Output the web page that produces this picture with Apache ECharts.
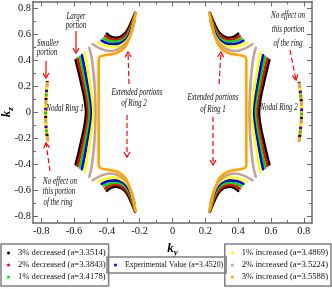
<!DOCTYPE html>
<html><head><meta charset="utf-8">
<script src="https://cdn.jsdelivr.net/npm/echarts@6/dist/echarts.min.js"></script>
<style>html,body{margin:0;padding:0;background:#fff}#c{width:332px;height:289px}</style>
</head><body><div id="c"></div>
<script>
const seriesNames = ['3% decreased (a=3.3514)','2% decreased (a=3.3843)','1% decreased (a=3.4178)','Experimental Value (a=3.4520)','1% increased (a=3.4869)','2% increased (a=3.5224)','3% increased (a=3.5588)'];
const seriesColors = ['#000000','#ff0000','#00e000','#0000ff','#ffff00','#c4a09a','#ffa500'];
const majorTicks = [-0.8,-0.6,-0.4,-0.2,0,0.2,0.4,0.6,0.8];
const minorTicks = [-0.7,-0.5,-0.3,-0.1,0.1,0.3,0.5,0.7];

// Left nodal ring (larger portion), top -> bottom
const L_ring_blk = [[-0.590,0.400],[-0.574,0.320],[-0.556,0.220],[-0.537,0.110],[-0.527,0],[-0.537,-0.110],[-0.556,-0.220],[-0.574,-0.320],[-0.590,-0.400]];
const L_ring_red = [[-0.578,0.412],[-0.562,0.330],[-0.544,0.225],[-0.525,0.112],[-0.515,0],[-0.525,-0.112],[-0.544,-0.225],[-0.562,-0.330],[-0.578,-0.412]];
const L_ring_grn = [[-0.565,0.425],[-0.549,0.340],[-0.532,0.230],[-0.514,0.115],[-0.504,0],[-0.514,-0.115],[-0.532,-0.230],[-0.549,-0.340],[-0.565,-0.425]];
const L_ring_blu = [[-0.552,0.438],[-0.537,0.350],[-0.520,0.235],[-0.503,0.118],[-0.493,0],[-0.503,-0.118],[-0.520,-0.235],[-0.537,-0.350],[-0.552,-0.438]];
const L_ring_yel = [[-0.536,0.458],[-0.522,0.365],[-0.507,0.245],[-0.491,0.120],[-0.482,0],[-0.491,-0.120],[-0.507,-0.245],[-0.522,-0.365],[-0.536,-0.458]];
const L_ring_ros = [[-0.507,0.495],[-0.493,0.420],[-0.481,0.300],[-0.472,0.150],[-0.469,0],[-0.472,-0.150],[-0.481,-0.300],[-0.493,-0.420],[-0.507,-0.495]];
// Right nodal ring
const R_ring_blk = [[0.590,0.400],[0.574,0.320],[0.556,0.220],[0.537,0.110],[0.527,0],[0.537,-0.110],[0.556,-0.220],[0.574,-0.320],[0.590,-0.400]];
const R_ring_red = [[0.578,0.412],[0.562,0.330],[0.544,0.225],[0.525,0.112],[0.515,0],[0.525,-0.112],[0.544,-0.225],[0.562,-0.330],[0.578,-0.412]];
const R_ring_grn = [[0.565,0.425],[0.549,0.340],[0.532,0.230],[0.514,0.115],[0.504,0],[0.514,-0.115],[0.532,-0.230],[0.549,-0.340],[0.565,-0.425]];
const R_ring_blu = [[0.552,0.438],[0.537,0.350],[0.520,0.235],[0.503,0.118],[0.493,0],[0.503,-0.118],[0.520,-0.235],[0.537,-0.350],[0.552,-0.438]];
const R_ring_yel = [[0.536,0.458],[0.522,0.365],[0.507,0.245],[0.491,0.120],[0.482,0],[0.491,-0.120],[0.507,-0.245],[0.522,-0.365],[0.536,-0.458]];
const R_ring_ros = [[0.507,0.495],[0.493,0.420],[0.481,0.300],[0.472,0.150],[0.469,0],[0.472,-0.150],[0.481,-0.300],[0.493,-0.420],[0.507,-0.495]];

// Extended portions (upper-left)
const L_up_blk = [[-0.400,0.603],[-0.375,0.580],[-0.345,0.572],[-0.310,0.585],[-0.280,0.620],[-0.255,0.680],[-0.228,0.762]];
const L_up_red = [[-0.410,0.585],[-0.380,0.563],[-0.345,0.556],[-0.305,0.572],[-0.275,0.610],[-0.250,0.675],[-0.228,0.760]];
const L_up_grn = [[-0.420,0.567],[-0.385,0.546],[-0.345,0.540],[-0.300,0.558],[-0.270,0.600],[-0.247,0.670],[-0.227,0.758]];
const L_up_blu = [[-0.432,0.550],[-0.392,0.528],[-0.345,0.523],[-0.298,0.542],[-0.266,0.590],[-0.244,0.665],[-0.226,0.762]];
const L_up_yel = [[-0.452,0.535],[-0.405,0.510],[-0.350,0.502],[-0.295,0.530],[-0.262,0.580],[-0.241,0.655],[-0.225,0.755]];
const L_up_ros = [[-0.487,0.522],[-0.442,0.490],[-0.381,0.470],[-0.330,0.485],[-0.280,0.535],[-0.250,0.612],[-0.230,0.700]];
// lower-left
const L_dn_blk = [[-0.400,-0.603],[-0.375,-0.580],[-0.345,-0.572],[-0.310,-0.585],[-0.280,-0.620],[-0.255,-0.680],[-0.228,-0.762]];
const L_dn_red = [[-0.410,-0.585],[-0.380,-0.563],[-0.345,-0.556],[-0.305,-0.572],[-0.275,-0.610],[-0.250,-0.675],[-0.228,-0.760]];
const L_dn_grn = [[-0.420,-0.567],[-0.385,-0.546],[-0.345,-0.540],[-0.300,-0.558],[-0.270,-0.600],[-0.247,-0.670],[-0.227,-0.758]];
const L_dn_blu = [[-0.432,-0.550],[-0.392,-0.528],[-0.345,-0.523],[-0.298,-0.542],[-0.266,-0.590],[-0.244,-0.665],[-0.226,-0.762]];
const L_dn_yel = [[-0.452,-0.535],[-0.405,-0.510],[-0.350,-0.502],[-0.295,-0.530],[-0.262,-0.580],[-0.241,-0.655],[-0.225,-0.755]];
const L_dn_ros = [[-0.487,-0.522],[-0.442,-0.490],[-0.381,-0.470],[-0.330,-0.485],[-0.280,-0.535],[-0.250,-0.612],[-0.230,-0.700]];
// upper-right
const R_up_blk = [[0.400,0.603],[0.375,0.580],[0.345,0.572],[0.310,0.585],[0.280,0.620],[0.255,0.680],[0.228,0.762]];
const R_up_red = [[0.410,0.585],[0.380,0.563],[0.345,0.556],[0.305,0.572],[0.275,0.610],[0.250,0.675],[0.228,0.760]];
const R_up_grn = [[0.420,0.567],[0.385,0.546],[0.345,0.540],[0.300,0.558],[0.270,0.600],[0.247,0.670],[0.227,0.758]];
const R_up_blu = [[0.432,0.550],[0.392,0.528],[0.345,0.523],[0.298,0.542],[0.266,0.590],[0.244,0.665],[0.226,0.762]];
const R_up_yel = [[0.452,0.535],[0.405,0.510],[0.350,0.502],[0.295,0.530],[0.262,0.580],[0.241,0.655],[0.225,0.755]];
const R_up_ros = [[0.487,0.522],[0.442,0.490],[0.381,0.470],[0.330,0.485],[0.280,0.535],[0.250,0.612],[0.230,0.700]];
// lower-right
const R_dn_blk = [[0.400,-0.603],[0.375,-0.580],[0.345,-0.572],[0.310,-0.585],[0.280,-0.620],[0.255,-0.680],[0.228,-0.762]];
const R_dn_red = [[0.410,-0.585],[0.380,-0.563],[0.345,-0.556],[0.305,-0.572],[0.275,-0.610],[0.250,-0.675],[0.228,-0.760]];
const R_dn_grn = [[0.420,-0.567],[0.385,-0.546],[0.345,-0.540],[0.300,-0.558],[0.270,-0.600],[0.247,-0.670],[0.227,-0.758]];
const R_dn_blu = [[0.432,-0.550],[0.392,-0.528],[0.345,-0.523],[0.298,-0.542],[0.266,-0.590],[0.244,-0.665],[0.226,-0.762]];
const R_dn_yel = [[0.452,-0.535],[0.405,-0.510],[0.350,-0.502],[0.295,-0.530],[0.262,-0.580],[0.241,-0.655],[0.225,-0.755]];
const R_dn_ros = [[0.487,-0.522],[0.442,-0.490],[0.381,-0.470],[0.330,-0.485],[0.280,-0.535],[0.250,-0.612],[0.230,-0.700]];

// 3% increased: ring joined with its extended portions
const L_org = [[-0.225,0.760],[-0.238,0.690],[-0.258,0.590],[-0.290,0.500],[-0.340,0.455],[-0.400,0.440],[-0.440,0.428],[-0.450,0.400],[-0.450,0.200],[-0.450,0],[-0.450,-0.200],[-0.450,-0.400],[-0.440,-0.428],[-0.400,-0.440],[-0.340,-0.455],[-0.290,-0.500],[-0.258,-0.590],[-0.238,-0.690],[-0.225,-0.760]];
const R_org = [[0.225,0.760],[0.238,0.690],[0.258,0.590],[0.290,0.500],[0.340,0.455],[0.400,0.440],[0.440,0.428],[0.450,0.400],[0.450,0.200],[0.450,0],[0.450,-0.200],[0.450,-0.400],[0.440,-0.428],[0.400,-0.440],[0.340,-0.455],[0.290,-0.500],[0.258,-0.590],[0.238,-0.690],[0.225,-0.760]];

// Smaller portions (no effect)
const L_small = [[-0.762,0.240],[-0.770,0.120],[-0.773,0.000],[-0.770,-0.120],[-0.758,-0.225]];
const R_small = [[0.771,0.232],[0.782,0.120],[0.787,0.010],[0.782,-0.100],[0.771,-0.227]];

const curves = [
  [L_ring_blk,0],[R_ring_blk,0],[L_up_blk,0],[L_dn_blk,0],[R_up_blk,0],[R_dn_blk,0],
  [L_ring_red,1],[R_ring_red,1],[L_up_red,1],[L_dn_red,1],[R_up_red,1],[R_dn_red,1],
  [L_ring_grn,2],[R_ring_grn,2],[L_up_grn,2],[L_dn_grn,2],[R_up_grn,2],[R_dn_grn,2],
  [L_ring_blu,3],[R_ring_blu,3],[L_up_blu,3],[L_dn_blu,3],[R_up_blu,3],[R_dn_blu,3],
  [L_ring_yel,4],[R_ring_yel,4],[L_up_yel,4],[L_dn_yel,4],[R_up_yel,4],[R_dn_yel,4],
  [L_ring_ros,5],[R_ring_ros,5],[L_up_ros,5],[L_dn_ros,5],[R_up_ros,5],[R_dn_ros,5],
  [L_org,6],[R_org,6]
];

const series = curves.map(([d,ci]) => ({
  type:'line', name:seriesNames[ci], data:d, smooth:0.35, symbol:'none', silent:true,
  lineStyle:{color:seriesColors[ci], width:2.6, cap:'round', join:'round'},
  itemStyle:{color:seriesColors[ci]}, z:2+ci
}));
[L_small, R_small].forEach(d => {
  series.push({type:'line', name:seriesNames[6], data:d, smooth:0.4, symbol:'none', silent:true,
    lineStyle:{color:seriesColors[6], width:3}, itemStyle:{color:seriesColors[6]}, z:10});
  [[0,1],[2,5],[3,9],[4,12],[5,15]].forEach(([ci,off]) => series.push({
    type:'line', name:seriesNames[ci], data:d, smooth:0.4, symbol:'none', silent:true,
    lineStyle:{color:seriesColors[ci], width:3, type:[2,16], dashOffset:off}, itemStyle:{color:seriesColors[ci]}, z:11
  }));
});

const serif = 'Liberation Serif';
const axisCol = '#6a6a6a';
function axis(pos, ticks, len, showLine, showLabel) {
  return {
    type:'value', position:pos, min:-0.85, max:0.85, gridIndex:0,
    axisLine:{show:showLine, onZero:false, lineStyle:{color:axisCol, width:1.5}},
    axisTick:{show:true, inside:true, length:len, customValues:ticks, lineStyle:{color:axisCol, width:1}},
    axisLabel:{show:showLabel, customValues:ticks, margin:3, fontFamily:serif, fontSize:10.5, color:'#111'},
    splitLine:{show:false}
  };
}
const xAxes = [axis('bottom',majorTicks,5,true,true), axis('bottom',minorTicks,3,false,false),
               axis('top',majorTicks,5,true,false), axis('top',minorTicks,3,false,false)];
const yAxes = [axis('left',majorTicks,5,true,true), axis('left',minorTicks,3,false,false),
               axis('right',majorTicks,5,true,false), axis('right',minorTicks,3,false,false)];
const nameStyle = {rich:{k:{fontFamily:serif,fontStyle:'italic',fontWeight:'bold',fontSize:13,color:'#000'},
  s:{fontFamily:serif,fontStyle:'italic',fontWeight:'bold',fontSize:9,color:'#000',padding:[7,0,0,0]}}};
Object.assign(xAxes[0], {name:'{k|k}{s|y}', nameLocation:'middle', nameGap:18, nameTextStyle:nameStyle});
Object.assign(yAxes[0], {name:'{k|k}{s|z}', nameLocation:'middle', nameGap:18, nameRotate:90, nameMoveOverlap:false, nameTextStyle:nameStyle});
yAxes[0].axisLabel.margin = 2;

const legendBase = {orient:'vertical', icon:'circle', itemWidth:3, itemHeight:3, itemGap:0,
  borderColor:'#808080', borderWidth:1.5, selectedMode:false,
  textStyle:{fontFamily:serif, fontSize:8.6, color:'#111', lineHeight:12, padding:[0,0,0,3]}};
const legends = [
  Object.assign({}, legendBase, {data:seriesNames.slice(0,3), left:1, top:244, padding:[3,3,3,6]}),
  Object.assign({}, legendBase, {data:[seriesNames[3]], left:107, top:257, padding:[2,3,2,7], textStyle:Object.assign({}, legendBase.textStyle, {fontSize:7.8})}),
  Object.assign({}, legendBase, {data:seriesNames.slice(4), right:1, top:244, padding:[3,3,3,6]})
];

const notes = [['Smaller',48,43],['portion',47,52],['Larger',76,16],['portion',76,25],['Nodal Ring 1',65,108],
  ['Extended portions',137,92],['of Ring 2',134,103],['Extended portions',213,97],['of Ring 1',213,109],
  ['Nodal Ring 2',279,107],['No effect on',288,15],['this portion',288,29],['of the ring',288,43],
  ['No effect on',60,181],['this portion',59,191],['of the ring',58,202]];
const arrows = [[46,61,46,78,false],[76,31,76,53,false],[129,84,128,52,true],[127,115,127,157,true],
  [219,84,221,52,true],[213,117,213,165,true],[290,50,296,80,true],[50,171,46,143,true]];

const graphic = [];
notes.forEach(([t,x,y]) => graphic.push({type:'text', x:x, y:y, scaleX:0.7, z:100, zlevel:1,
  style:{text:t, font:'italic 10px "Liberation Serif"', fill:'#111', textAlign:'center', textVerticalAlign:'middle'}}));
arrows.forEach(([x1,y1,x2,y2,dashed]) => {
  const dx = x2-x1, dy = y2-y1, L = Math.hypot(dx,dy), ux = dx/L, uy = dy/L;
  const bx = x2-ux*5, by = y2-uy*5, px = -uy*3, py = ux*3;
  graphic.push({type:'line', z:100, zlevel:1, shape:{x1:x1,y1:y1,x2:x2,y2:y2},
    style:{stroke:'#ff0000', lineWidth:1.2, lineDash:dashed?[5,3]:null}});
  graphic.push({type:'polyline', z:100, zlevel:1, shape:{points:[[bx+px,by+py],[x2,y2],[bx-px,by-py]]},
    style:{stroke:'#ff0000', lineWidth:1.2, fill:null}});
});

const chart = echarts.init(document.getElementById('c'), null, {renderer:'canvas'});
chart.setOption({
  animation:false,
  grid:{left:33, right:20, top:1.5, bottom:66, containLabel:false, outerBoundsMode:'none'},
  xAxis:xAxes, yAxis:yAxes,
  legend:legends,
  series:series,
  graphic:graphic
});
</script></body></html>
